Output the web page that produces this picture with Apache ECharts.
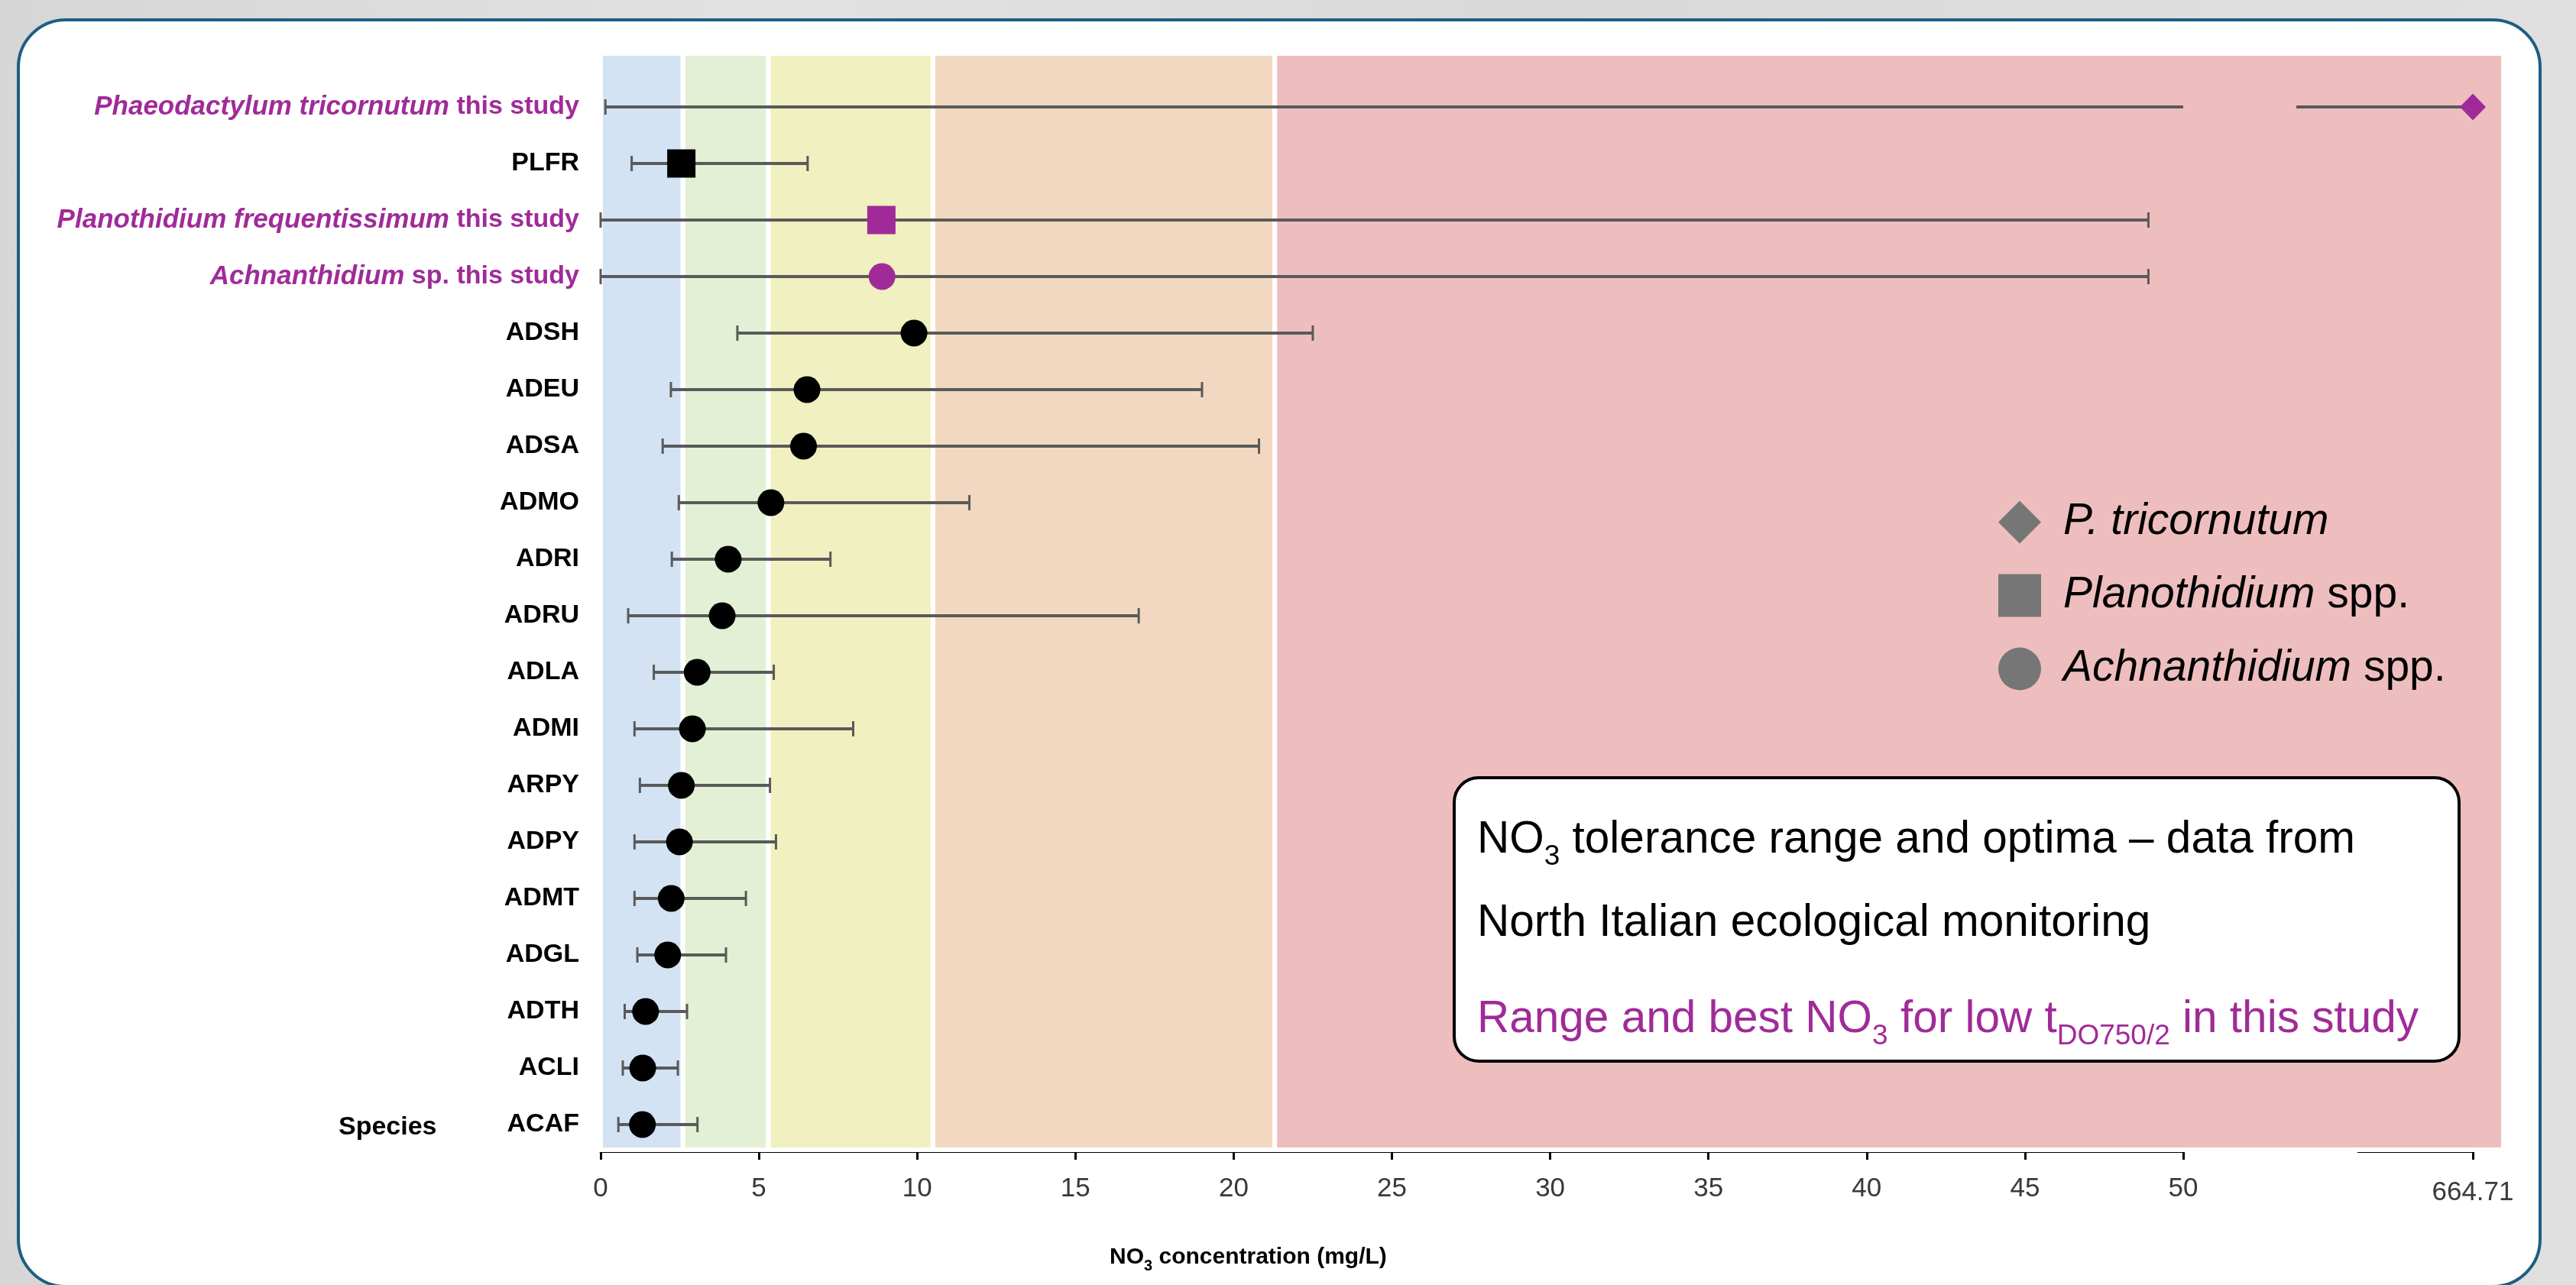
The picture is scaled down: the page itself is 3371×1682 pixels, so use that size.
<!DOCTYPE html>
<html>
<head>
<meta charset="utf-8">
<script src="https://cdn.jsdelivr.net/npm/echarts@6/dist/echarts.min.js"></script>
<style>
html,body{margin:0;padding:0;width:3371px;height:1682px;overflow:hidden;
  background:linear-gradient(90deg,#d6d6d6,#e2e2e2 30%,#d9d9d9 60%,#e0e0e0);}
#panel{position:absolute;left:22px;top:24px;width:3304px;height:1662px;box-sizing:border-box;
  border:4px solid #1d5f80;border-radius:64px;background:#fff;}
#chart{position:absolute;left:0;top:0;width:3371px;height:1682px;}
</style>
</head>
<body>
<div id="panel"></div>
<div id="chart"></div>
<script>
// ---------------- data ----------------
const species = [
  'Phaeodactylum tricornutum this study', 'PLFR',
  'Planothidium frequentissimum this study', 'Achnanthidium sp. this study',
  'ADSH', 'ADEU', 'ADSA', 'ADMO', 'ADRI', 'ADRU', 'ADLA', 'ADMI',
  'ARPY', 'ADPY', 'ADMT', 'ADGL', 'ADTH', 'ACLI', 'ACAF'
];
const lowValues  = [0.15, 0.98, 0.0, 0.0, 4.32, 2.22, 1.96, 2.47, 2.25, 0.87, 1.68, 1.07, 1.24, 1.07, 1.07, 1.16, 0.76, 0.70, 0.56];
const bestValues = [664.71, 2.55, 8.87, 8.89, 9.9, 6.52, 6.41, 5.38, 4.03, 3.84, 3.05, 2.9, 2.55, 2.49, 2.23, 2.12, 1.42, 1.33, 1.32];
const highValues = [664.71, 6.54, 48.9, 48.9, 22.5, 19.0, 20.8, 11.65, 7.26, 17.0, 5.47, 7.98, 5.35, 5.54, 4.59, 3.96, 2.73, 2.44, 3.06];
const markerGroup = ['P. tricornutum', 'Planothidium spp.', 'Planothidium spp.', 'Achnanthidium spp.',
  'Achnanthidium spp.', 'Achnanthidium spp.', 'Achnanthidium spp.', 'Achnanthidium spp.', 'Achnanthidium spp.',
  'Achnanthidium spp.', 'Achnanthidium spp.', 'Achnanthidium spp.', 'Achnanthidium spp.', 'Achnanthidium spp.',
  'Achnanthidium spp.', 'Achnanthidium spp.', 'Achnanthidium spp.', 'Achnanthidium spp.', 'Achnanthidium spp.'];
const thisStudy = [true, false, true, true, false, false, false, false, false, false, false, false, false, false, false, false, false, false, false];
const classLimits = [0, 2.6, 5.3, 10.5, 21.3];      // NO3 quality class boundaries (mg/L)
const mainAxisMax = 50;                             // end of the continuous axis part
const breakAxisValue = 664.71;                      // value shown after the axis break
const legendNames = ['P. tricornutum', 'Planothidium spp.', 'Achnanthidium spp.'];

// ---------------- styles / layout ----------------
const PURPLE = '#A02B98';
const ERR = '#5a5a5a';
const FONT = 'Liberation Sans, Arial, sans-serif';
const BAND_COLORS = ['#d3e3f3', '#e3f0d5', '#f1f0c0', '#f2d8c0', '#eebebf'];
const SYMBOLS = {'P. tricornutum': 'diamond', 'Planothidium spp.': 'rect', 'Achnanthidium spp.': 'circle'};
const SYMSIZE = {'P. tricornutum': [34, 35], 'Planothidium spp.': [37, 37], 'Achnanthidium spp.': [35, 35]};

const PLOT_LEFT = 786, MAIN_W = 2071, PLOT_W = 2490;
const FULL_MAX = mainAxisMax * PLOT_W / MAIN_W;       // value at the right edge of the plot area
const BRK_LO = 640;                                   // arbitrary start of the broken segment scale
const DATA_TOP = 103, DATA_H = 1406;

const chart = echarts.init(document.getElementById('chart'), null, {renderer: 'canvas'});

function errRenderMain(params, api) {
  const lo = api.value(0), hi = api.value(1), row = api.value(2);
  const hiShown = Math.min(hi, mainAxisMax);
  const p0 = api.coord([lo, row]);
  const p1 = api.coord([hiShown, row]);
  const st = {stroke: ERR, lineWidth: 4};
  const ch = [{type: 'line', shape: {x1: p0[0], y1: p0[1], x2: p1[0], y2: p1[1]}, style: st}];
  ch.push({type: 'line', shape: {x1: p0[0], y1: p0[1] - 10, x2: p0[0], y2: p0[1] + 10}, style: {stroke: ERR, lineWidth: 3}});
  if (hi <= mainAxisMax) {
    ch.push({type: 'line', shape: {x1: p1[0], y1: p1[1] - 10, x2: p1[0], y2: p1[1] + 10}, style: {stroke: ERR, lineWidth: 3}});
  }
  return {type: 'group', children: ch};
}
function errRenderBreak(params, api) {
  const lo = Math.max(api.value(0), BRK_LO), hi = api.value(1), row = api.value(2);
  const p0 = api.coord([lo, row]);
  const p1 = api.coord([hi, row]);
  return {type: 'line', shape: {x1: p0[0], y1: p0[1], x2: p1[0], y2: p1[1]}, style: {stroke: ERR, lineWidth: 4}};
}
function bandRender(params, api) {
  const cs = params.coordSys;
  const i = params.dataIndex;
  const x0 = api.coord([classLimits[i], 0])[0];
  const x1 = i < classLimits.length - 1 ? api.coord([classLimits[i + 1], 0])[0] : cs.x + cs.width;
  return {type: 'rect', shape: {x: x0, y: cs.y, width: x1 - x0, height: cs.height},
    style: {fill: BAND_COLORS[i], stroke: '#fff', lineWidth: 6}};
}

const rows = species.map((s, i) => i);
const breakRows = rows.filter(i => highValues[i] > mainAxisMax);

function scatterSeries(group) {
  const inBreak = group === 'P. tricornutum';
  const idx = rows.filter(i => markerGroup[i] === group);
  return {
    name: group, type: 'scatter', z: 6, clip: false,
    xAxisIndex: inBreak ? 3 : 1, yAxisIndex: inBreak ? 3 : 1,
    symbol: SYMBOLS[group], symbolSize: SYMSIZE[group],
    itemStyle: {opacity: 1},
    data: idx.map(i => ({value: [bestValues[i], i], itemStyle: {color: thisStudy[i] ? PURPLE : '#000', opacity: 1}}))
  };
}

const option = {
  animation: false,
  backgroundColor: 'transparent',
  textStyle: {fontFamily: FONT},
  grid: [
    {left: PLOT_LEFT, top: 70, width: PLOT_W, height: 1435},          // 0 bands
    {left: PLOT_LEFT, top: DATA_TOP, width: PLOT_W, height: DATA_H},  // 1 data
    {left: PLOT_LEFT, top: 70, width: MAIN_W, height: 1437},          // 2 main axis
    {left: 3005, top: DATA_TOP, width: 231, height: DATA_H},          // 3 break data
    {left: 3086, top: 70, width: 150, height: 1437}                   // 4 break axis
  ],
  xAxis: [
    {type: 'value', gridIndex: 0, min: 0, max: FULL_MAX, show: false},
    {type: 'value', gridIndex: 1, min: 0, max: FULL_MAX, show: false},
    {type: 'value', gridIndex: 2, min: 0, max: mainAxisMax, interval: 5,
      axisLine: {show: true, lineStyle: {color: '#000', width: 4}},
      axisTick: {show: true, length: 11, lineStyle: {color: '#000', width: 3}},
      axisLabel: {fontSize: 35, color: '#3a3a3a', margin: 32, fontFamily: FONT},
      splitLine: {show: false}},
    {type: 'value', gridIndex: 3, min: BRK_LO, max: breakAxisValue, show: false},
    {type: 'value', gridIndex: 4, min: BRK_LO, max: breakAxisValue,
      axisLine: {show: true, lineStyle: {color: '#000', width: 4}},
      axisTick: {show: true, length: 11, lineStyle: {color: '#000', width: 3}, customValues: [breakAxisValue]},
      axisLabel: {fontSize: 35, color: '#3a3a3a', margin: 37, fontFamily: FONT, customValues: [breakAxisValue],
        formatter: v => String(v)},
      splitLine: {show: false}}
  ],
  yAxis: [
    {type: 'value', gridIndex: 0, min: 0, max: 1, show: false},
    {type: 'category', gridIndex: 1, data: species, inverse: true,
      axisLine: {show: false}, axisTick: {show: false}, splitLine: {show: false},
      axisLabel: {
        interval: 0, margin: 28, fontSize: 34, fontWeight: 'bold', color: '#000', fontFamily: FONT,
        formatter: (v, i) => {
          if (!thisStudy[i]) return '{b|' + v + '}';
          const name = v.replace(' this study', '');
          let it = name, rest = '';
          if (name.endsWith(' sp.')) { it = name.slice(0, -4); rest = ' sp.'; }
          return '{i|' + it + '}{n|' + rest + ' this study}';
        },
        rich: {
          b: {fontSize: 34, fontWeight: 'bold', color: '#000', fontFamily: FONT},
          i: {fontSize: 35, fontWeight: 'bold', fontStyle: 'italic', color: PURPLE, fontFamily: FONT},
          n: {fontSize: 34, fontWeight: 'bold', color: PURPLE, fontFamily: FONT}
        }
      }},
    {type: 'value', gridIndex: 2, show: false},
    {type: 'category', gridIndex: 3, data: species, inverse: true, show: false},
    {type: 'value', gridIndex: 4, show: false}
  ],
  legend: {
    orient: 'vertical', left: 2610, top: 650, itemWidth: 56, itemHeight: 56, itemGap: 39,
    selectedMode: false,
    data: legendNames.map(n => ({name: n, icon: SYMBOLS[n], itemStyle: {color: '#767676', opacity: 1}})),
    formatter: n => {
      const parts = n.split(' ');
      if (parts[parts.length - 1] === 'spp.') return '{g|}{i|' + parts.slice(0, -1).join(' ') + '}{n| spp.}';
      return '{g|}{i|' + n + '}';
    },
    textStyle: {
      fontSize: 57, color: '#000', fontFamily: FONT,
      rich: {
        g: {width: 24},
        i: {fontSize: 57, fontStyle: 'italic', color: '#000', fontFamily: FONT, lineHeight: 56},
        n: {fontSize: 57, color: '#000', fontFamily: FONT, lineHeight: 56}
      }
    }
  },
  title: [
    {text: 'Species', left: 438, top: 1454, textStyle: {fontSize: 34, fontWeight: 'bold', color: '#000', fontFamily: FONT}},
    {text: '{b|NO}{s|3}{b| concentration (mg/L)}', left: 1447, top: 1620,
      textStyle: {rich: {
        b: {fontSize: 30, fontWeight: 'bold', color: '#000', fontFamily: FONT, lineHeight: 42},
        s: {fontSize: 20, fontWeight: 'bold', color: '#000', fontFamily: FONT, lineHeight: 26, verticalAlign: 'bottom'}
      }}}
  ],
  graphic: [
    {type: 'rect', z: 100, shape: {x: 1903, y: 1018, width: 1315, height: 371, r: 32},
      style: {fill: '#fff', stroke: '#000', lineWidth: 4}},
    {type: 'text', z: 101, x: 1933, y: 1100,
      style: {text: '{m|NO}{s|3}{m| tolerance range and optima \u2013 data from}', verticalAlign: 'middle',
        rich: {m: {fontSize: 58.5, lineHeight: 80, fill: '#000', fontFamily: FONT},
               s: {fontSize: 37, lineHeight: 44, verticalAlign: 'bottom', fill: '#000', fontFamily: FONT}}}},
    {type: 'text', z: 101, x: 1933, y: 1209,
      style: {text: '{m|North Italian ecological monitoring}', verticalAlign: 'middle',
        rich: {m: {fontSize: 58.5, lineHeight: 80, fill: '#000', fontFamily: FONT}}}},
    {type: 'text', z: 101, x: 1933, y: 1335,
      style: {text: '{m|Range and best NO}{s|3}{m| for low t}{s|DO750/2}{m| in this study}', verticalAlign: 'middle',
        rich: {m: {fontSize: 58.5, lineHeight: 80, fill: PURPLE, fontFamily: FONT},
               s: {fontSize: 37, lineHeight: 44, verticalAlign: 'bottom', fill: PURPLE, fontFamily: FONT}}}}
  ],
  series: [
    {type: 'custom', name: 'bands', xAxisIndex: 0, yAxisIndex: 0, z: 1, silent: true,
      renderItem: bandRender, data: classLimits.map(v => [v, 0]), encode: {x: 0, y: 1}},
    {type: 'custom', name: 'range', xAxisIndex: 1, yAxisIndex: 1, z: 3, silent: true, clip: false,
      renderItem: errRenderMain, encode: {x: [0, 1], y: 2},
      data: rows.map(i => [lowValues[i], highValues[i], i])},
    {type: 'custom', name: 'rangeBreak', xAxisIndex: 3, yAxisIndex: 3, z: 3, silent: true, clip: false,
      renderItem: errRenderBreak, encode: {x: [0, 1], y: 2},
      data: breakRows.map(i => [lowValues[i], highValues[i], i])},
    scatterSeries('Planothidium spp.'),
    scatterSeries('Achnanthidium spp.'),
    scatterSeries('P. tricornutum')
  ]
};
chart.setOption(option);
</script>
</body>
</html>
